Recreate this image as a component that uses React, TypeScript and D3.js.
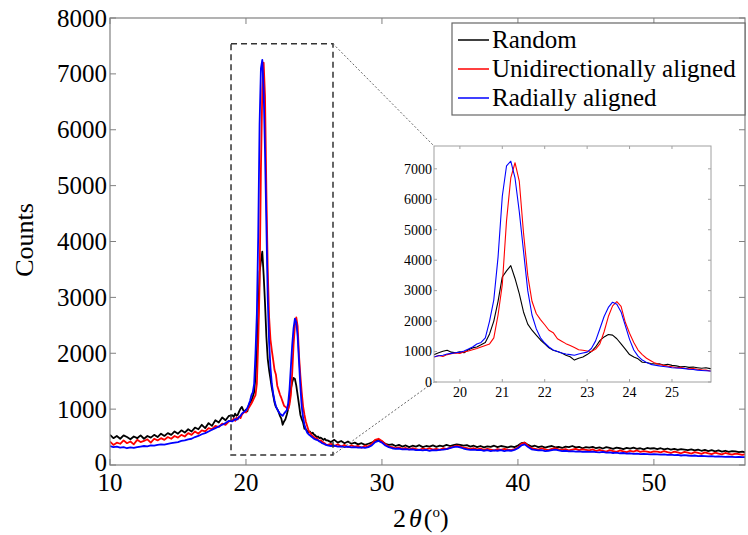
import React from 'react'
import * as d3 from 'd3'

// scan grid (2theta, degrees): coarse below the peaks, fine through them, coarse after
const thetaLow = d3.range(40, 76).map(i => i / 4)      // 10 .. 18.75
const thetaPeak = d3.range(190, 260).map(i => i / 10)  // 19.0 .. 25.9
const thetaHigh = d3.range(104, 228).map(i => i / 4)   // 26 .. 56.75

const randomLow = [540, 480, 520, 470, 530, 500, 460, 510, 480, 530, 470, 520, 490, 540, 500, 560, 520, 570, 540, 600,
  560, 620, 580, 640, 600, 670, 640, 720, 660, 750, 700, 800, 760, 850, 800, 880]
const randomPeak = [890, 860, 920, 880, 900, 960, 1010, 1040, 980, 960,
  990, 960, 1060, 1120, 1150, 1220, 1300, 1580, 2000, 2650,
  3450, 3650, 3820, 3400, 2900, 2300, 1900, 1700, 1540, 1380,
  1250, 1120, 1040, 1000, 950, 880, 830, 720, 780, 820,
  900, 1000, 1150, 1360, 1480, 1560, 1540, 1420, 1250, 1080,
  900, 820, 760, 650, 640, 610, 590, 600, 560, 580,
  545, 530, 500, 510, 480, 490, 470, 450, 470, 440]
const randomHigh = [440, 410, 450, 400, 430, 390, 420, 380, 400, 370, 390, 360, 380,
  400, 440, 450, 420, 380, 360,
  370, 340, 360, 330, 350, 320, 345, 330, 355, 320, 340, 330, 350, 325, 345, 335, 360, 340,
  355, 370, 360, 345, 355, 330,
  345, 320, 340, 315, 335, 325, 345, 320, 340, 330, 315, 335, 320, 350,
  390, 400, 360, 330,
  345, 320, 335, 310, 330, 340, 315, 325, 305, 330, 320, 340, 315, 325, 300, 320,
  310, 325, 300, 315, 295, 320, 305, 290, 310, 300, 285, 305, 295, 310, 290, 300, 280, 305, 295, 300,
  285, 300, 280, 295, 275, 290, 270, 285, 275, 265, 280, 260, 275, 255, 270, 250, 265, 245, 260, 240,
  255, 235, 250, 245, 230, 240, 225]

const uniLow = [420, 360, 400, 380, 440, 390, 420, 370, 450, 410, 430, 460, 400, 470, 440, 480, 450, 500, 470, 520,
  490, 540, 510, 570, 540, 600, 560, 620, 600, 660, 640, 700, 680, 740, 720, 780]
const uniPeak = [800, 830, 790, 850, 820, 870, 840, 900, 930, 950,
  940, 990, 1020, 1060, 1100, 1150, 1200, 1250, 1450, 2200,
  3200, 5300, 6700, 7200, 6600, 4900, 3500, 2650, 2250, 2050,
  1880, 1700, 1620, 1420, 1340, 1260, 1200, 1130, 1060, 1040,
  1020, 1000, 1080, 1250, 1650, 2150, 2500, 2640, 2480, 1960,
  1600, 1300, 1050, 900, 780, 700, 620, 580, 545, 520,
  500, 470, 480, 450, 430, 440, 420, 400, 390, 360]
const uniHigh = [360, 380, 340, 370, 330, 360, 320, 350, 330, 340, 310, 345, 330,
  380, 450, 470, 430, 370, 330,
  320, 300, 315, 290, 305, 280, 300, 285, 270, 295, 280, 300, 275, 290, 270, 300, 285, 310,
  330, 345, 330, 310, 300, 285,
  300, 280, 295, 270, 290, 275, 260, 285, 270, 290, 275, 265, 285, 310,
  380, 400, 340, 300,
  290, 275, 300, 280, 265, 290, 300, 280, 270, 285, 260, 275, 290, 265, 280, 270,
  260, 280, 250, 270, 255, 240, 265, 250, 235, 260, 245, 230, 255, 240, 260, 235, 250, 240, 225, 245,
  240, 225, 250, 230, 215, 240, 225, 210, 235, 220, 205, 230, 215, 200, 225, 210, 195, 220, 205, 190,
  215, 200, 185, 205, 195, 180, 195]

const radLow = [340, 320, 330, 310, 320, 300, 315, 305, 320, 330, 340, 335, 350, 345, 360, 370, 365, 380, 390, 400,
  410, 430, 440, 460, 470, 500, 520, 550, 570, 600, 630, 660, 690, 720, 750, 790]
const radPeak = [780, 800, 820, 810, 830, 860, 880, 920, 940, 960,
  980, 1020, 1080, 1150, 1250, 1300, 1450, 2000, 2700, 4100,
  6100, 7100, 7250, 6700, 5600, 4300, 3000, 2200, 1750, 1450,
  1280, 1150, 1050, 1000, 950, 920, 900, 880, 920, 950,
  980, 1100, 1350, 1750, 2150, 2450, 2620, 2550, 2300, 1850,
  1400, 1050, 850, 720, 640, 580, 550, 530, 510, 490,
  470, 460, 450, 440, 420, 410, 390, 380, 370, 360]
const radHigh = [350, 340, 345, 330, 335, 320, 330, 315, 320, 310, 315, 305, 320,
  350, 410, 430, 400, 350, 320,
  300, 290, 295, 280, 285, 275, 280, 265, 270, 260, 270, 255, 265, 260, 270, 275, 285, 300,
  320, 330, 315, 295, 280, 270,
  275, 265, 270, 255, 265, 250, 260, 255, 265, 250, 260, 255, 270, 300,
  350, 370, 320, 280,
  270, 260, 265, 250, 255, 265, 275, 260, 250, 255, 245, 250, 240, 245, 235, 240,
  235, 240, 230, 225, 235, 220, 225, 215, 220, 210, 215, 205, 210, 200, 205, 195, 200, 195, 190, 195,
  190, 185, 190, 180, 185, 175, 180, 170, 175, 170, 165, 170, 160, 165, 160, 155, 160, 150, 155, 150,
  145, 150, 145, 140, 145, 140, 140]

const seriesNames = ['Random', 'Unidirectionally aligned', 'Radially aligned']
const seriesColors = ['#000000', '#ff0000', '#0000ff']

const xTicks = [10, 20, 30, 40, 50]
const yTicks = [0, 1000, 2000, 3000, 4000, 5000, 6000, 7000, 8000]
const insetXTicks = [20, 21, 22, 23, 24, 25]
const insetYTicks = [0, 1000, 2000, 3000, 4000, 5000, 6000, 7000]

// zoomed window marked on the main plot (2theta, counts)
const boxTheta = [18.9, 26.4]
const boxCounts = [180, 7540]

const theta = [...thetaLow, ...thetaPeak, ...thetaHigh]
const allSeries = [
  [...randomLow, ...randomPeak, ...randomHigh],
  [...uniLow, ...uniPeak, ...uniHigh],
  [...radLow, ...radPeak, ...radHigh],
]

const serif = '"Liberation Serif", "Times New Roman", serif'
const axisGray = '#808080'

export default function App() {
  const x = d3.scaleLinear().domain([10, 56.7]).range([110, 745])
  const y = d3.scaleLinear().domain([0, 8000]).range([465, 18])
  const ix = d3.scaleLinear().domain([19.39, 25.92]).range([434, 711])
  const iy = d3.scaleLinear().domain([0, 7750]).range([382, 146])

  const mainLine = d3.line<number>().x((d, i) => x(theta[i])).y(d => y(d))
  const insetLine = d3.line<number>().x((d, i) => ix(theta[i])).y(d => iy(d))

  const [x0, x1] = x.range()
  const [y0, y1] = y.range()
  const [ix0, ix1] = ix.range()
  const [iy0, iy1] = iy.range()

  const bx0 = x(boxTheta[0]), bx1 = x(boxTheta[1])
  const by0 = y(boxCounts[0]), by1 = y(boxCounts[1])

  return (
    <svg width={748} height={535} style={{ position: 'absolute', left: 0, top: 0, background: '#fff' }}
      fontFamily={serif}>
      <defs>
        <clipPath id="mainClip"><rect x={x0} y={y1} width={x1 - x0} height={y0 - y1} /></clipPath>
        <clipPath id="insetClip"><rect x={ix0} y={iy1} width={ix1 - ix0} height={iy0 - iy1} /></clipPath>
      </defs>

      {/* main curves */}
      <g clipPath="url(#mainClip)">
        {allSeries.map((vals, k) => (
          <path key={k} d={mainLine(vals) || ''} fill="none" stroke={seriesColors[k]}
            strokeWidth={1.8} strokeLinejoin="round" />
        ))}
      </g>

      {/* main frame and ticks */}
      <rect x={x0} y={y1} width={x1 - x0} height={y0 - y1} fill="none" stroke={axisGray} strokeWidth={1.2} />
      {xTicks.map(t => (
        <g key={'xt' + t}>
          <line x1={x(t)} x2={x(t)} y1={y0} y2={y0 - 6} stroke={axisGray} />
          <line x1={x(t)} x2={x(t)} y1={y1} y2={y1 + 6} stroke={axisGray} />
          <text x={x(t)} y={y0 + 26} fontSize={25} textAnchor="middle" fill="#000">{t}</text>
        </g>
      ))}
      {yTicks.map(t => (
        <g key={'yt' + t}>
          <line x1={x0} x2={x0 + 6} y1={y(t)} y2={y(t)} stroke={axisGray} />
          <line x1={x1} x2={x1 - 6} y1={y(t)} y2={y(t)} stroke={axisGray} />
          <text x={x0 - 3} y={t === 0 ? y(t) - 3 : y(t)} dy="0.34em" fontSize={25} textAnchor="end" fill="#000">{t}</text>
        </g>
      ))}

      {/* axis titles */}
      <text transform={`translate(33,240) rotate(-90)`} fontSize={26} textAnchor="middle" fill="#000">Counts</text>
      <text x={393} y={527} fontSize={26} fill="#000">
        2<tspan dx={3} fontStyle="italic">θ</tspan><tspan dx={2}>(</tspan><tspan dy={-10} fontSize={15}>o</tspan><tspan dy={10}>)</tspan>
      </text>

      {/* zoom box and connectors */}
      <rect x={bx0} y={by1} width={bx1 - bx0} height={by0 - by1} fill="none" stroke="#333"
        strokeWidth={1.5} strokeDasharray="6 4" />
      <line x1={bx1} y1={by1} x2={ix0} y2={iy1} stroke="#666" strokeWidth={1} strokeDasharray="2 2" />
      <line x1={bx1} y1={by0} x2={ix0} y2={iy0} stroke="#666" strokeWidth={1} strokeDasharray="2 2" />

      {/* legend */}
      <rect x={452} y={23} width={293} height={92} fill="#fff" stroke="#666" strokeWidth={1.2} />
      {seriesNames.map((name, k) => (
        <g key={name}>
          <line x1={458} x2={489} y1={40 + k * 29} y2={40 + k * 29} stroke={seriesColors[k]} strokeWidth={1.5} />
          <text x={492} y={48 + k * 29} fontSize={25} fill="#000">{name}</text>
        </g>
      ))}

      {/* inset */}
      <rect x={ix0} y={iy1} width={ix1 - ix0} height={iy0 - iy1} fill="#fff" />
      <g clipPath="url(#insetClip)">
        {allSeries.map((vals, k) => (
          <path key={k} d={insetLine(vals) || ''} fill="none" stroke={seriesColors[k]}
            strokeWidth={1.1} strokeLinejoin="round" />
        ))}
      </g>
      <rect x={ix0} y={iy1} width={ix1 - ix0} height={iy0 - iy1} fill="none" stroke="#a0a0a0" strokeWidth={1} />
      {insetXTicks.map(t => (
        <g key={'ixt' + t}>
          <line x1={ix(t)} x2={ix(t)} y1={iy0} y2={iy0 - 3} stroke="#a0a0a0" />
          <line x1={ix(t)} x2={ix(t)} y1={iy1} y2={iy1 + 3} stroke="#a0a0a0" />
          <text x={ix(t)} y={iy0 + 15} fontSize={14} textAnchor="middle" fill="#000">{t}</text>
        </g>
      ))}
      {insetYTicks.map(t => (
        <g key={'iyt' + t}>
          <line x1={ix0} x2={ix0 + 3} y1={iy(t)} y2={iy(t)} stroke="#a0a0a0" />
          <line x1={ix1} x2={ix1 - 3} y1={iy(t)} y2={iy(t)} stroke="#a0a0a0" />
          <text x={ix0 - 2} y={iy(t)} dy="0.34em" fontSize={14} textAnchor="end" fill="#000">{t}</text>
        </g>
      ))}
    </svg>
  )
}
